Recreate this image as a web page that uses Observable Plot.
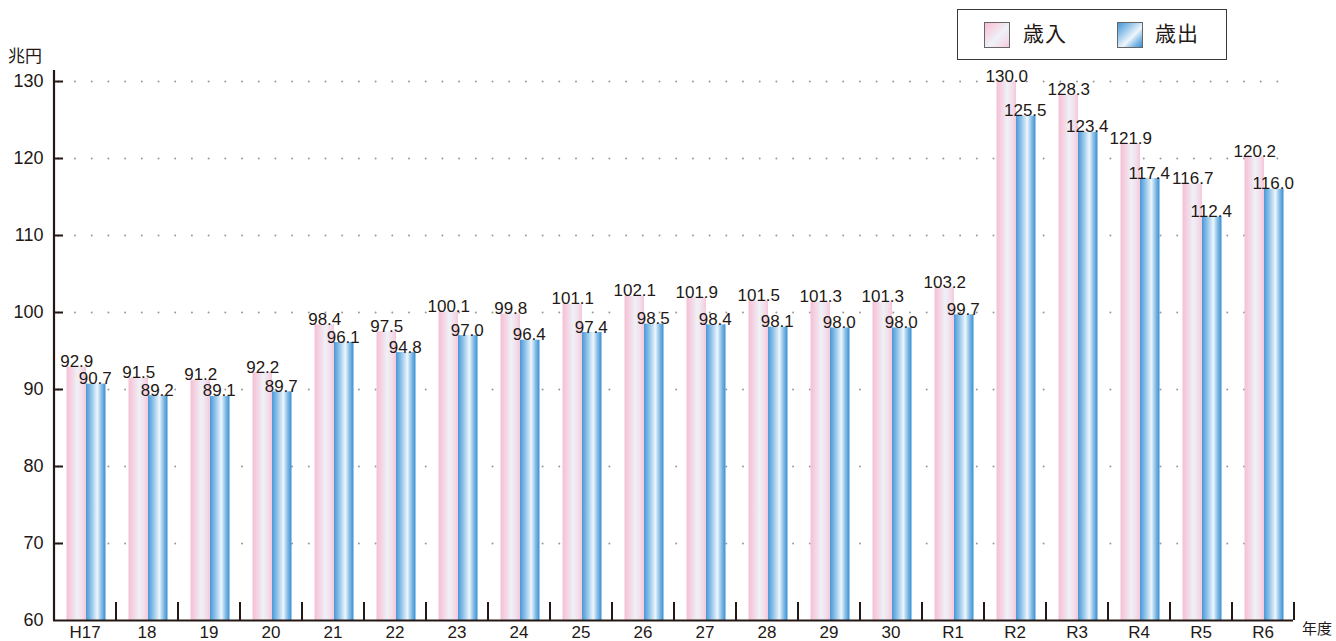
<!DOCTYPE html>
<html>
<head>
<meta charset="utf-8">
<script src="https://cdn.jsdelivr.net/npm/d3@7"></script>
<script src="https://cdn.jsdelivr.net/npm/@observablehq/plot@0.6"></script>
<style>
  html, body { margin: 0; padding: 0; background: #fff; }
  #wrap { position: relative; width: 1336px; height: 641px; overflow: hidden; }
  .lbl { position: absolute; font-family: "Noto Sans CJK JP", sans-serif; color: #231815; line-height: 1; white-space: nowrap; }
  #legend { position: absolute; left: 957px; top: 9px; width: 268px; height: 49px; border: 1.5px solid #3a3a3a; background: #fff; }
  .sw { position: absolute; width: 24px; height: 24px; border: 1px solid #666; }
</style>
</head>
<body>
<div id="wrap"></div>
<script>
const years = ["H17","18","19","20","21","22","23","24","25","26","27","28","29","30","R1","R2","R3","R4","R5","R6"];
const revenue = [92.9,91.5,91.2,92.2,98.4,97.5,100.1,99.8,101.1,102.1,101.9,101.5,101.3,101.3,103.2,130.0,128.3,121.9,116.7,120.2];
const expenditure = [90.7,89.2,89.1,89.7,96.1,94.8,97.0,96.4,97.4,98.5,98.4,98.1,98.0,98.0,99.7,125.5,123.4,117.4,112.4,116.0];
const yTicks = [60,70,80,90,100,110,120,130];
const gridTicks = [70,80,90,100,110,120,130];
const seriesNames = ["歳入","歳出"];

const rev = years.map((y, i) => ({year: y, value: revenue[i]}));
const exp = years.map((y, i) => ({year: y, value: expenditure[i]}));

const ink = "#231815";
const yMin = 60, yTop = 131.43;
const half = 31;      // half a category step (px)
const barShift = 1.5;

const chart = Plot.plot({
  width: 1336,
  height: 641,
  marginLeft: 53,
  marginRight: 43,
  marginTop: 70,
  marginBottom: 21,
  style: {fontFamily: "'Liberation Sans', Arial, sans-serif", color: ink, background: "#fff"},
  x: {type: "band", domain: years, paddingInner: 0.371, paddingOuter: 0.1855, label: null},
  y: {domain: [yMin, yTop], label: null},
  marks: [
    Plot.gridY(gridTicks, {stroke: "#999", strokeOpacity: 1, strokeWidth: 2, strokeDasharray: "0,16.7", strokeLinecap: "round", strokeDashoffset: -22}),
    Plot.barY(rev, {x: "year", y1: yMin, y2: "value", fill: "url(#gPink)", insetRight: 19.5, dx: barShift}),
    Plot.barY(exp, {x: "year", y1: yMin, y2: "value", fill: "url(#gBlue)", insetLeft: 19.5, dx: barShift}),
    Plot.text(rev, {x: "year", y: "value", text: d => d.value.toFixed(1), dx: -9.75 + barShift, dy: 0, lineAnchor: "bottom", fontSize: 17, fill: ink, letterSpacing: "-0.4px"}),
    Plot.text(exp, {x: "year", y: "value", text: d => d.value.toFixed(1), dx: 9.75 + barShift - 1, dy: 0, lineAnchor: "bottom", fontSize: 17, fill: ink, letterSpacing: "-0.4px"}),
    Plot.ruleY([yMin], {stroke: ink, strokeWidth: 2.2}),
    Plot.ruleX([years[0]], {dx: -half, y1: yMin, y2: yTop, stroke: ink, strokeWidth: 2.2}),
    Plot.ruleX(years, {x: d => d, dx: half, y1: yMin, y2: yMin + 18 / 7.7, stroke: ink, strokeWidth: 2}),
    Plot.axisY(gridTicks, {tickSize: 10, dx: 10, text: null, stroke: ink, strokeWidth: 2}),
    Plot.axisY(yTicks, {tickSize: 0, tickPadding: 10, fontSize: 18, fill: ink, label: null}),
    Plot.axisX({tickSize: 0, tickPadding: 5, fontSize: 17, fill: ink, label: null})
  ]
});

// gradient definitions for the bars
const ns = "http://www.w3.org/2000/svg";
const defs = document.createElementNS(ns, "defs");
function grad(id, stops, x2, y2) {
  const g = document.createElementNS(ns, "linearGradient");
  g.setAttribute("id", id);
  g.setAttribute("x1", "0"); g.setAttribute("y1", "0");
  g.setAttribute("x2", x2); g.setAttribute("y2", y2);
  for (const [o, c] of stops) {
    const s = document.createElementNS(ns, "stop");
    s.setAttribute("offset", o); s.setAttribute("stop-color", c);
    g.appendChild(s);
  }
  defs.appendChild(g);
}
const pinkStops = [["0", "#f4bfd5"], ["0.25", "#f5d4e3"], ["0.55", "#eef1f8"], ["0.8", "#f3dfeb"], ["1", "#f5c7da"]];
const blueStops = [["0", "#4898d7"], ["0.3", "#98c7eb"], ["0.58", "#eef6fc"], ["0.8", "#84bce6"], ["1", "#3890d3"]];
grad("gPink", pinkStops, "1", "0");
grad("gBlue", blueStops, "1", "0");
const svg = chart.tagName.toLowerCase() === "svg" ? chart : chart.querySelector("svg");
svg.insertBefore(defs, svg.firstChild);

const wrap = document.getElementById("wrap");
wrap.appendChild(chart);

function addLabel(text, left, top, size) {
  const d = document.createElement("div");
  d.className = "lbl";
  d.textContent = text;
  d.style.left = left + "px";
  d.style.top = top + "px";
  d.style.fontSize = size + "px";
  wrap.appendChild(d);
  return d;
}
addLabel("兆円", 8, 46, 17);
addLabel("年度", 1302, 620, 15);

// legend
const legend = document.createElement("div");
legend.id = "legend";
wrap.appendChild(legend);
const swGrad = stops => "linear-gradient(135deg, " + stops.map(([o, c]) => c + " " + (o * 100) + "%").join(", ") + ")";
[[seriesNames[0], pinkStops, 26, 65], [seriesNames[1], blueStops, 159, 197]].forEach(([name, stops, sx, tx]) => {
  const s = document.createElement("div");
  s.className = "sw";
  s.style.left = sx + "px";
  s.style.top = "12px";
  s.style.background = swGrad(stops);
  legend.appendChild(s);
  const t = document.createElement("div");
  t.className = "lbl";
  t.textContent = name;
  t.style.left = tx + "px";
  t.style.top = "12px";
  t.style.fontSize = "21px";
  t.style.letterSpacing = "1px";
  legend.appendChild(t);
});
</script>
</body>
</html>
